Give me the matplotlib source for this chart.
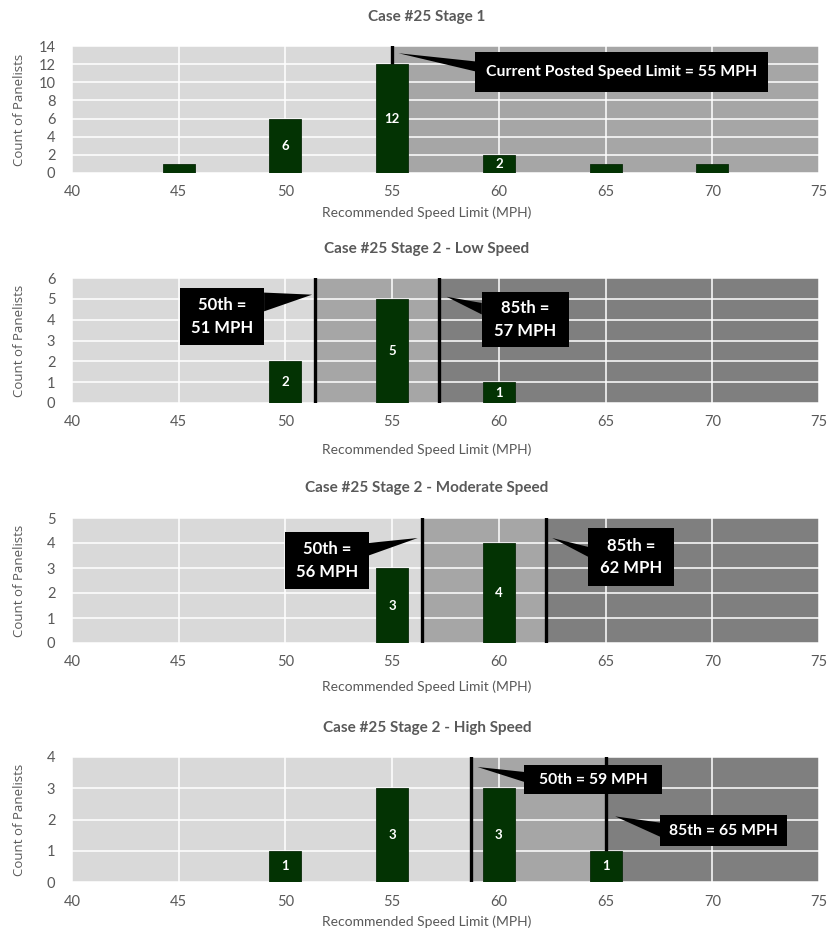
import matplotlib
matplotlib.use("Agg")
import matplotlib.pyplot as plt
from matplotlib.patches import Rectangle, Polygon

plt.rcParams['font.family'] = ['Lato', 'DejaVu Sans']

# ---- data -------------------------------------------------------------
titles = [
    "Case #25 Stage 1",
    "Case #25 Stage 2 - Low Speed",
    "Case #25 Stage 2 - Moderate Speed",
    "Case #25 Stage 2 - High Speed",
]
stage1_speeds = [45, 50, 55, 60, 65, 70]
stage1_counts = [1, 6, 12, 2, 1, 1]
low_speeds = [50, 55, 60]
low_counts = [2, 5, 1]
moderate_speeds = [55, 60]
moderate_counts = [3, 4]
high_speeds = [50, 55, 60, 65]
high_counts = [1, 3, 3, 1]

posted_limit = 55
low_pctl = [51.4, 57.2]        # 50th, 85th
moderate_pctl = [56.4, 62.2]
high_pctl = [58.7, 65.0]

y_max = [14, 6, 5, 4]
y_step = [2, 1, 1, 1]
x_ticks = [40, 45, 50, 55, 60, 65, 70, 75]
x_label = "Recommended Speed Limit (MPH)"
y_label = "Count of Panelists"

# ---- style ------------------------------------------------------------
W, H = 829, 931
LIGHT, MID, DARK = "#d9d9d9", "#a6a6a6", "#7f7f7f"
BAR = "#033303"
TXT = "#595959"
BAR_W = 1.5

fig = plt.figure(figsize=(W / 100, H / 100), dpi=100)

# axes boxes in pixels: (left, right, top, bottom)
boxes = [(72, 819, 46, 173), (72, 819, 278, 403), (72, 819, 518, 643), (72, 819, 757, 882)]
title_y = [17, 249, 488, 728]
xlabel_y = [213, 450, 687, 922]


def make_axes(i):
    l, r, t, b = boxes[i]
    ax = fig.add_axes([l / W, 1 - b / H, (r - l) / W, (b - t) / H])
    ax.set_xlim(40, 75)
    ax.set_ylim(0, y_max[i])
    ax.set_xticks(x_ticks)
    ax.set_yticks(range(0, y_max[i] + 1, y_step[i]))
    for s in ax.spines.values():
        s.set_visible(False)
    ax.tick_params(length=0, labelsize=10.5, labelcolor=TXT, pad=9)
    ax.tick_params(axis='y', pad=12)
    ax.grid(True, color="white", lw=1.1, zorder=1)
    ax.set_axisbelow(True)
    fig.text(0.515, 1 - title_y[i] / H, titles[i], ha="center", va="center",
             fontsize=11, fontweight="bold", color=TXT)
    fig.text(0.515, 1 - xlabel_y[i] / H, x_label, ha="center", va="center",
             fontsize=10, color=TXT)
    fig.text(20 / W, 1 - ((t + b) / 2) / H, y_label, ha="center", va="center",
             rotation=90, fontsize=9.5, color=TXT,
             family=["Open Sans", "DejaVu Sans"])
    return ax


def bars(ax, speeds, counts, min_label=1):
    ax.bar(speeds, counts, width=BAR_W, color=BAR, edgecolor="#0a2a0a",
           lw=0.6, zorder=4)
    for x, c in zip(speeds, counts):
        if c >= min_label:
            ax.text(x, c / 2, str(c), ha="center", va="center", color="white",
                    fontsize=9.5, fontweight="bold", zorder=5)


def vline(ax, x):
    ax.axvline(x, color="black", lw=2.4, zorder=3)


def callout(ax, text, box, tip, base, size=12):
    x0, x1, y0, y1 = box
    ax.add_patch(Rectangle((x0, y0), x1 - x0, y1 - y0, facecolor="black",
                           edgecolor="none", zorder=6))
    bx = x0 if tip[0] < x0 else x1
    ax.add_patch(Polygon([tip, (bx, base[0]), (bx, base[1])], closed=True,
                         facecolor="black", edgecolor="none", zorder=6))
    ax.text((x0 + x1) / 2, (y0 + y1) / 2, text, ha="center", va="center",
            color="white", fontsize=size, fontweight="bold", zorder=7,
            linespacing=1.5)


# ---- Stage 1 ----------------------------------------------------------
ax = make_axes(0)
ax.axvspan(40, posted_limit, color=LIGHT, zorder=0, lw=0)
ax.axvspan(posted_limit, 75, color=MID, zorder=0, lw=0)
vline(ax, posted_limit)
bars(ax, stage1_speeds, stage1_counts, min_label=2)
callout(ax, f"Current Posted Speed Limit = {posted_limit} MPH",
        (58.9, 72.6, 8.9, 13.3), (55.3, 13.2), (12.3, 11.2), size=11.4)


def stage2(i, speeds, counts, pctl, layout, size=12):
    ax = make_axes(i)
    p50, p85 = pctl
    ax.axvspan(40, p50, color=LIGHT, zorder=0, lw=0)
    ax.axvspan(p50, p85, color=MID, zorder=0, lw=0)
    ax.axvspan(p85, 75, color=DARK, zorder=0, lw=0)
    vline(ax, p50)
    vline(ax, p85)
    bars(ax, speeds, counts)
    (b1, t1, s1, fmt1), (b2, t2, s2, fmt2) = layout
    callout(ax, fmt1.format(round(p50)), b1, t1, s1, size)
    callout(ax, fmt2.format(round(p85)), b2, t2, s2, size)


stage2(1, low_speeds, low_counts, low_pctl, [
    ((45.05, 49.0, 2.79, 5.53), (51.25, 5.2), (5.3, 4.4), "50th =\n{} MPH"),
    ((59.2, 63.3, 2.69, 5.34), (57.55, 5.1), (4.8, 4.25), "85th =\n{} MPH"),
])
stage2(2, moderate_speeds, moderate_counts, moderate_pctl, [
    ((50.0, 53.9, 2.16, 4.44), (56.2, 4.2), (4.0, 3.5), "50th =\n{} MPH"),
    ((64.2, 68.2, 2.28, 4.6), (62.5, 4.2), (3.84, 3.44), "85th =\n{} MPH"),
])
stage2(3, high_speeds, high_counts, high_pctl, [
    ((61.2, 67.65, 2.82, 3.74), (59.0, 3.68), (3.52, 3.2), "50th = {} MPH"),
    ((67.55, 73.5, 1.15, 2.14), (65.45, 2.1), (1.9, 1.45), "85th = {} MPH"),
], size=11.3)

fig.savefig("out.png", dpi=100, facecolor="white")
